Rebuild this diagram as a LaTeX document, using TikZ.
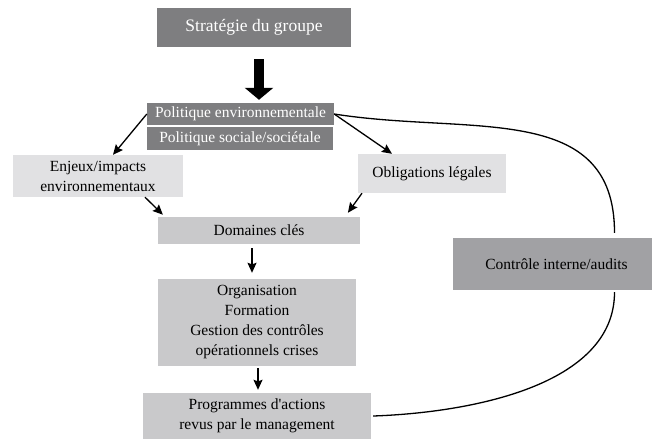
\documentclass[tikz,border=0pt]{standalone}
\usepackage{fontspec}
\setmainfont{Liberation Serif}
\usetikzlibrary{arrows.meta}

\definecolor{darkbox}{RGB}{126,126,128}
\definecolor{ctrlbox}{RGB}{161,161,164}
\definecolor{midbox}{RGB}{201,201,203}
\definecolor{lightbox}{RGB}{225,225,227}

\begin{document}
\begin{tikzpicture}[x=1pt,y=1pt,
  box/.style={inner sep=0pt, align=center, font=\fontsize{15.5}{20}\selectfont},
  darkfill/.style={box, fill=darkbox, text=white},
  link/.style={line width=1.3pt, -{Stealth[length=10pt,width=9pt,inset=1.5pt]}},
  loopline/.style={line width=1.3pt}]

\useasboundingbox (0,0) rectangle (652,-439);

% top of the chain
\node[darkfill, minimum width=194, minimum height=39,
      font=\fontsize{17.5}{20}\selectfont] (strat) at (254,-27.5) {Strat\'egie du groupe};
\node[darkfill, minimum width=187, minimum height=22] (polenv) at (240.5,-114) {Politique environnementale};
\node[darkfill, minimum width=186, minimum height=23] (polsoc) at (240,-138.5) {Politique sociale/soci\'etale};

% inputs
\node[box, fill=lightbox, minimum width=170, minimum height=42] (enjeux) at (98,-176) {Enjeux/impacts\\environnementaux};
\node[box, fill=lightbox, minimum width=148, minimum height=39] (oblig) at (432,-173.5) {Obligations l\'egales};

% middle and bottom
\node[box, fill=midbox, minimum width=202, minimum height=27] (domaines) at (259,-230.5) {Domaines cl\'es};
\node[box, fill=midbox, minimum width=198, minimum height=87] (orga) at (257,-322.5)
  {Organisation\\Formation\\Gestion des contr\^oles\\op\'erationnels crises};
\node[box, fill=midbox, minimum width=228, minimum height=46] (prog) at (257,-416)
  {Programmes d\textquotesingle actions\\revus par le management};

% control
\node[box, fill=ctrlbox, minimum width=199, minimum height=52] (controle) at (552.5,-264) {\hspace{8pt}Contr\^ole interne/audits};

% thick arrow
\draw[line width=10pt, -{Triangle[length=12pt,width=28pt]}, shorten <=12pt, shorten >=3pt]
  ([xshift=5pt]strat.south) -- ([xshift=5pt]strat.south |- polenv.north);

% thin arrows
\draw[link] (polenv.west) -- ([xshift=15pt]enjeux.north);
\draw[link] (polenv.east) -- ([xshift=-40pt]oblig.north);
\draw[link, shorten >=3pt] ([xshift=47pt]enjeux.south) -- ([xshift=-94pt]domaines.north);
\draw[link, shorten >=5pt] ([xshift=-70pt]oblig.south) -- ([xshift=86pt]domaines.north);
\draw[link, shorten <=4pt, shorten >=6pt] ([xshift=-7pt]domaines.south) -- ([xshift=-7pt]domaines.south |- orga.north);
\draw[link, shorten <=2pt, shorten >=3pt] ([xshift=1pt]orga.south) -- ([xshift=1pt]orga.south |- prog.north);

% loop through the control box
\draw[loopline, shorten >=5pt] (polenv.east) to[out=-9, in=90, looseness=1.15] ([xshift=62pt]controle.north);
\draw[loopline, shorten >=2pt] ([xshift=2pt]prog.east) to[out=2, in=-90, looseness=0.9] ([xshift=62pt]controle.south);

\end{tikzpicture}
\end{document}
